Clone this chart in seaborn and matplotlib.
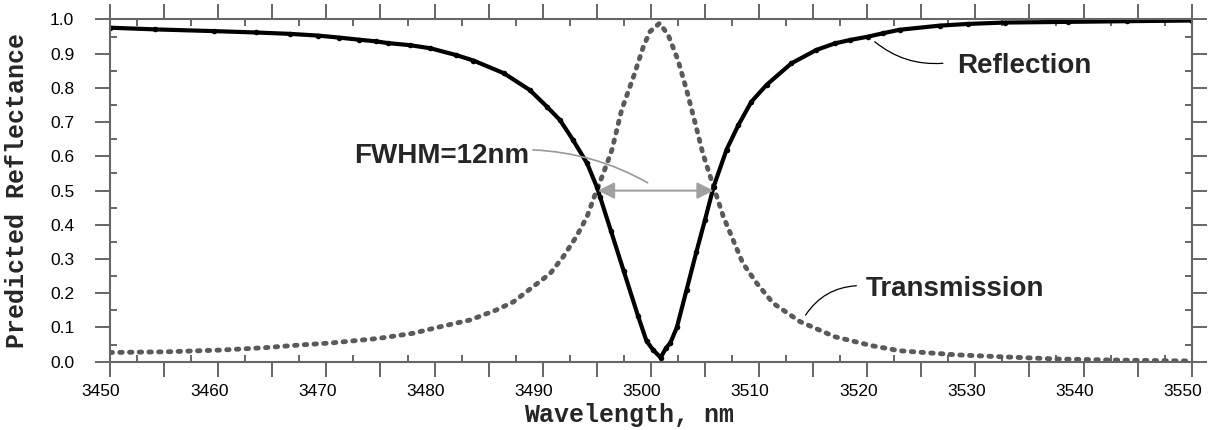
import matplotlib
matplotlib.use("Agg")
import matplotlib.pyplot as plt
from matplotlib.ticker import MultipleLocator, FixedLocator
import matplotlib.transforms as mtransforms
import seaborn as sns
import numpy as np
import pandas as pd

# ---- data ----
refl_wl = [3450.0, 3454.2, 3459.6, 3463.5, 3466.6, 3469.2, 3471.2, 3473.0, 3474.6, 3475.7,
           3477.7, 3479.6, 3482.0, 3483.6, 3486.4, 3488.8, 3490.4, 3491.6, 3492.8, 3494.1,
           3495.0, 3495.3, 3496.3, 3497.5, 3498.8, 3499.6, 3500.2, 3500.9, 3501.4, 3501.8,
           3502.4, 3503.3, 3504.2, 3505.0, 3505.8, 3507.0, 3508.1, 3509.3, 3510.7, 3513.0,
           3515.3, 3517.0, 3518.4, 3520.1, 3521.5, 3523.0, 3526.7, 3529.3, 3532.7, 3538.6,
           3544.0, 3550.0]
refl_val = [0.976, 0.971, 0.966, 0.962, 0.958, 0.953, 0.947, 0.941, 0.936, 0.931,
            0.925, 0.916, 0.896, 0.880, 0.843, 0.794, 0.745, 0.706, 0.648, 0.580,
            0.511, 0.482, 0.383, 0.264, 0.135, 0.060, 0.035, 0.012, 0.040, 0.055,
            0.100, 0.210, 0.320, 0.414, 0.511, 0.620, 0.692, 0.760, 0.809, 0.872,
            0.911, 0.930, 0.940, 0.950, 0.960, 0.970, 0.982, 0.987, 0.991, 0.993,
            0.995, 0.997]

trans_wl = [3450.0, 3455.2, 3460.2, 3464.3, 3467.6, 3470.5, 3474.8, 3478.0, 3480.5, 3483.3,
            3485.7, 3487.3, 3489.1, 3490.7, 3491.9, 3493.1, 3494.1, 3495.0, 3495.6, 3496.4,
            3497.3, 3498.4, 3499.3, 3499.9, 3500.8, 3501.6, 3502.5, 3503.3, 3504.1, 3504.8,
            3505.8, 3506.7, 3507.6, 3508.5, 3509.8, 3511.3, 3513.8, 3517.0, 3520.4, 3523.0,
            3528.3, 3532.0, 3537.5, 3542.6, 3550.0]
trans_val = [0.027, 0.029, 0.034, 0.041, 0.049, 0.055, 0.068, 0.083, 0.102, 0.122,
             0.151, 0.175, 0.219, 0.258, 0.307, 0.365, 0.424, 0.502, 0.550, 0.619,
             0.736, 0.833, 0.920, 0.964, 0.989, 0.955, 0.882, 0.794, 0.697, 0.609,
             0.511, 0.424, 0.356, 0.288, 0.229, 0.171, 0.117, 0.073, 0.047, 0.032,
             0.020, 0.015, 0.008, 0.005, 0.002]

fwhm_left, fwhm_right, fwhm_level = 3495.1, 3505.8, 0.5
x_labels = ["3450", "3460", "3470", "3480", "3490", "3500", "3510", "3520", "3530", "3540", "3550"]
y_labels = ["0.0", "0.1", "0.2", "0.3", "0.4", "0.5", "0.6", "0.7", "0.8", "0.9", "1.0"]

# ---- style ----
sns.set_style("ticks")
plt.rcParams['font.family'] = ['Liberation Sans', 'DejaVu Sans']

axis_gray = "#666666"
trans_gray = "#5a5a5a"

fig = plt.figure(figsize=(12.08, 4.30), dpi=100)
ax = fig.add_axes([0.0911, 0.1588, 0.8954, 0.7959])

df_r = pd.DataFrame({"wl": refl_wl, "val": refl_val})
df_t = pd.DataFrame({"wl": trans_wl, "val": trans_val})

sns.lineplot(data=df_t, x="wl", y="val", ax=ax, color=trans_gray, linewidth=3.5,
             linestyle=(0, (0.5, 1.5)), sort=False, estimator=None)
ax.lines[-1].set_dash_capstyle("round")
sns.lineplot(data=df_r, x="wl", y="val", ax=ax, color="black", linewidth=3.0,
             marker="o", markersize=4, markeredgewidth=0, sort=False, estimator=None)

ax.set_xlim(3450, 3550)
ax.set_ylim(0, 1.0)

ax.xaxis.set_major_locator(MultipleLocator(5))
ax.xaxis.set_minor_locator(FixedLocator(np.arange(3452.5, 3550, 5)))
ax.yaxis.set_minor_locator(MultipleLocator(0.05))

xt = ax.get_xticks()
ax.set_xticklabels([x_labels[int(round((v - 3450) / 10))] if abs((v - 3450) % 10) < 1e-6 else "" for v in xt])
ax.set_yticks(np.arange(0, 1.01, 0.1))
ax.set_yticklabels(y_labels)

for s in ax.spines.values():
    s.set_visible(True)
    s.set_color(axis_gray)
    s.set_linewidth(1.5)

ax.tick_params(which="major", direction="out", length=10.8, width=1.4, color=axis_gray,
               top=True, right=True, bottom=True, left=True, labelsize=12.5, labelcolor="black")
ax.tick_params(which="minor", direction="in", length=5, width=1.4, color=axis_gray,
               top=True, right=True, bottom=True, left=True)
ax.tick_params(axis="y", which="major", pad=15)
ax.tick_params(axis="x", which="major", pad=5)

# reference draws the x tick labels a little left of their ticks
shift = mtransforms.ScaledTranslation(-9 / 100, 0, fig.dpi_scale_trans)
for lab in ax.get_xticklabels():
    lab.set_transform(lab.get_transform() + shift)

mono = dict(family=["Liberation Mono", "DejaVu Sans Mono"], weight="bold", size=18)
ax.set_xlabel("Wavelength, nm", fontdict=mono)
ax.set_ylabel("Predicted Reflectance", fontdict=mono)
ax.xaxis.label.set_va("center")
ax.xaxis.set_label_coords(0.48, -0.156)
ax.yaxis.label.set_va("center")
ax.yaxis.set_label_coords(-0.086, 0.5)

bold = dict(family=["Liberation Sans", "DejaVu Sans"], weight="bold", size=20)
ax.text(3472.6, 0.581, "FWHM=12nm", ha="left", va="baseline", **bold)
ax.text(3528.3, 0.845, "Reflection", ha="left", va="baseline", **bold)
ax.text(3519.9, 0.192, "Transmission", ha="left", va="baseline", **bold)

# FWHM double arrow
ax.annotate("", xy=(fwhm_left, fwhm_level), xytext=(fwhm_right, fwhm_level),
            arrowprops=dict(arrowstyle="<|-|>", color="#a0a0a0", lw=1.5,
                            mutation_scale=25, shrinkA=0, shrinkB=0))
# leader lines
ax.annotate("", xy=(3499.7, 0.523), xytext=(3489.1, 0.619),
            arrowprops=dict(arrowstyle="-", color="#999999", lw=1.2,
                            connectionstyle="arc3,rad=-0.12", shrinkA=0, shrinkB=0))
ax.annotate("", xy=(3527.0, 0.872), xytext=(3520.7, 0.935),
            arrowprops=dict(arrowstyle="-", color="black", lw=0.9,
                            connectionstyle="arc3,rad=0.2", shrinkA=0, shrinkB=0))
ax.annotate("", xy=(3519.0, 0.222), xytext=(3514.3, 0.136),
            arrowprops=dict(arrowstyle="-", color="black", lw=0.9,
                            connectionstyle="arc3,rad=-0.25", shrinkA=0, shrinkB=0))

fig.savefig("out.png", dpi=100)
